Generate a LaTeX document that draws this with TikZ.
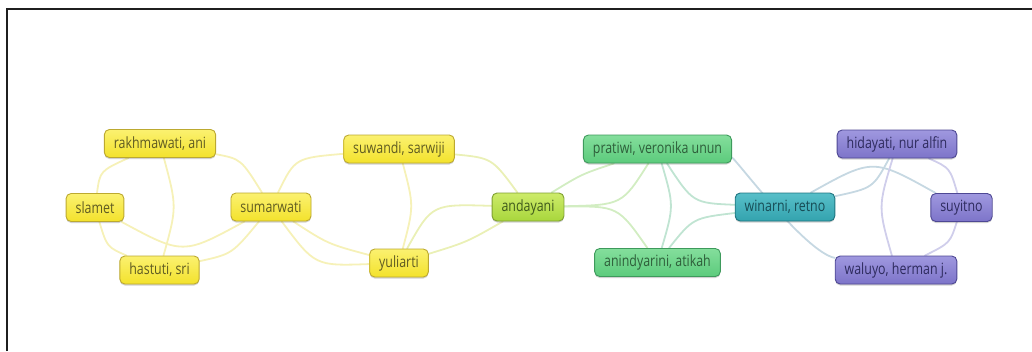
\documentclass[tikz,border=0pt]{standalone}
\usepackage{fontspec}
\setmainfont{Open Sans}[FakeStretch=0.8]
\usetikzlibrary{shadows}
\pgfdeclarelayer{bg}
\pgfsetlayers{bg,main}

% node palettes
\definecolor{yTop}{HTML}{FBF170}\definecolor{yBot}{HTML}{F3E22C}\definecolor{yLine}{HTML}{BCA930}\definecolor{yText}{HTML}{5F5B22}
\definecolor{lTop}{HTML}{CDEB6A}\definecolor{lBot}{HTML}{A8D63C}\definecolor{lLine}{HTML}{7FA032}\definecolor{lText}{HTML}{3F5A1C}
\definecolor{gTop}{HTML}{84DE9C}\definecolor{gBot}{HTML}{5CCB7C}\definecolor{gLine}{HTML}{3E9A5C}\definecolor{gText}{HTML}{2E5E3A}
\definecolor{tTop}{HTML}{58BFC9}\definecolor{tBot}{HTML}{33A3AE}\definecolor{tLine}{HTML}{1F7580}\definecolor{tText}{HTML}{174C55}
\definecolor{pTop}{HTML}{9F98DF}\definecolor{pBot}{HTML}{7D74C9}\definecolor{pLine}{HTML}{4E4894}\definecolor{pText}{HTML}{2E2B5E}
% link colours
\definecolor{eYc}{HTML}{F6F1B8}
\definecolor{eYGc}{HTML}{EAF0B6}
\definecolor{eGc}{HTML}{D2EDC2}
\definecolor{eGTc}{HTML}{C0E4D2}
\definecolor{eTc}{HTML}{C6D8E2}
\definecolor{ePc}{HTML}{D0CEEB}

\tikzset{
  author/.style={rounded corners=5pt, line width=0.9pt, minimum height=28pt,
    inner xsep=9.5pt, inner ysep=2pt, font=\fontsize{15.5}{17}\selectfont,
    drop shadow={shadow xshift=0pt, shadow yshift=-1.5pt, opacity=0.18, fill=black}},
  ynode/.style={author, top color=yTop, bottom color=yBot, draw=yLine, text=yText},
  lnode/.style={author, top color=lTop, bottom color=lBot, draw=lLine, text=lText},
  gnode/.style={author, top color=gTop, bottom color=gBot, draw=gLine, text=gText},
  tnode/.style={author, top color=tTop, bottom color=tBot, draw=tLine, text=tText},
  pnode/.style={author, top color=pTop, bottom color=pBot, draw=pLine, text=pText},
  link/.style={line width=1.8pt, line cap=round},
  eY/.style={link, draw=eYc},
  eYG/.style={link, draw=eYGc},
  eG/.style={link, draw=eGc},
  eGT/.style={link, draw=eGTc},
  eT/.style={link, draw=eTc},
  eP/.style={link, draw=ePc},
  frame/.style={line width=1.8pt, draw=black!88}
}

\begin{document}
\begin{tikzpicture}[x=1pt, y=-1pt]
\useasboundingbox (0,0) rectangle (1032,351);
\draw[frame] (7,351) -- (7,9) -- (1032,9);

% authors
\node[ynode] (rak) at (160,143.5) {rakhmawati, ani};
\node[ynode] (sla) at (95,207.5) {slamet};
\node[ynode] (sum) at (271,207) {sumarwati};
\node[ynode] (has) at (159.5,270) {hastuti, sri};
\node[ynode] (suw) at (399,149) {suwandi, sarwiji};
\node[ynode] (yul) at (399,263) {yuliarti};
\node[lnode] (anday) at (528,207) {andayani};
\node[gnode] (pra) at (657.5,149) {pratiwi, veronika unun};
\node[gnode] (ani) at (657.5,262.5) {anindyarini, atikah};
\node[tnode] (win) at (785,207) {winarni, retno};
\node[pnode] (hid) at (897,144) {hidayati, nur alfin};
\node[pnode] (suy) at (961.5,207.5) {suyitno};
\node[pnode] (wal) at (896,270) {waluyo, herman j.};

% co-authorship links
\begin{pgfonlayer}{bg}
\draw[eY] (rak) .. controls (100,171) .. (sla);
\draw[eY] (rak) .. controls (177,207) .. (has);
\draw[eY] (sla) .. controls (107,247) .. (has);
\draw[eY] (sla) .. controls (183,255) .. (sum);
\draw[eY] (has) .. controls (232,254) .. (sum);
\draw[eY] (rak) .. controls (241,159) .. (sum);
\draw[eY] (sum) .. controls (295,158) .. (suw);
\draw[eY] (sum) .. controls (328,244) .. (yul);
\draw[eY] (sum) .. controls (315,266) .. (yul);
\draw[eY] (suw) .. controls (414,206) .. (yul);
\draw[eYG] (suw) .. controls (492,158) .. (anday);
\draw[eYG] (yul) .. controls (432,204) .. (anday);
\draw[eYG] (yul) .. controls (467,242) .. (anday);
\draw[eG] (anday) .. controls (582,174) .. (pra);
\draw[eG] (anday) .. controls (622,205) .. (pra);
\draw[eG] (anday) .. controls (618,206) .. (ani);
\draw[eGT] (pra) .. controls (674,206) .. (ani);
\draw[eGT] (pra) .. controls (693,203) .. (win);
\draw[eGT] (ani) .. controls (693,218) .. (win);
\draw[eT] (pra) .. controls (735,158) and (805,252) .. (wal);
\draw[eT] (win) .. controls (873,188) .. (hid);
\draw[eT] (win) .. controls (873,158) .. (suy);
\draw[eP] (hid) .. controls (878,207) .. (wal);
\draw[eP] (hid) .. controls (950,168) .. (suy);
\draw[eP] (suy) .. controls (950,243) .. (wal);
\end{pgfonlayer}
\end{tikzpicture}
\end{document}
